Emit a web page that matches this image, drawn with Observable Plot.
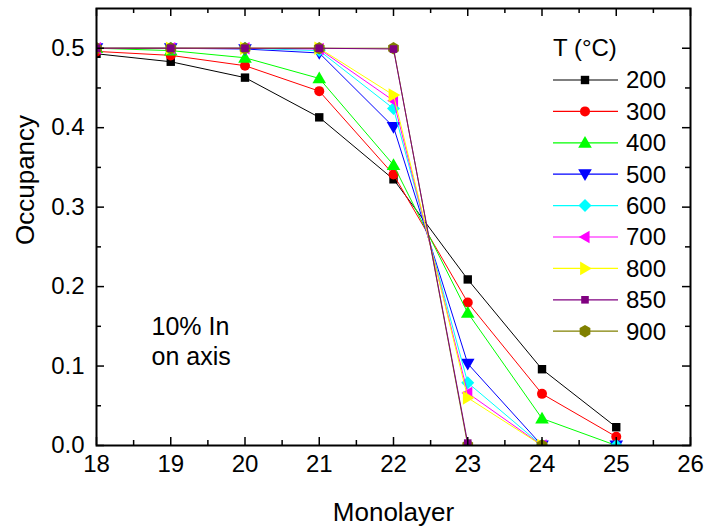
<!DOCTYPE html>
<html><head><meta charset="utf-8">
<script src="https://cdn.jsdelivr.net/npm/d3@7"></script>
<script src="https://cdn.jsdelivr.net/npm/@observablehq/plot@0.6"></script>
<style>body{margin:0;background:#fff} #chart{position:relative;width:707px;height:532px}</style>
</head><body><div id="chart"></div>
<script>
// ---- data ----
const monolayers = [18, 19, 20, 21, 22, 23, 24, 25];
const temps = ["200", "300", "400", "500", "600", "700", "800", "850", "900"];
const s200 = [0.493, 0.483, 0.463, 0.413, 0.335, 0.209, 0.096, 0.023];
const s300 = [0.496, 0.491, 0.478, 0.446, 0.341, 0.180, 0.065, 0.011];
const s400 = [0.500, 0.497, 0.488, 0.462, 0.353, 0.167, 0.034, 0.000];
const s500 = [0.500, 0.500, 0.499, 0.494, 0.401, 0.103, 0.000, 0.000];
const s600 = [0.500, 0.500, 0.500, 0.497, 0.424, 0.079, 0.000, 0.000];
const s700 = [0.500, 0.500, 0.500, 0.499, 0.434, 0.066, 0.000, null];
const s800 = [0.500, 0.500, 0.500, 0.500, 0.441, 0.060, 0.000, null];
const s850 = [0.500, 0.500, 0.500, 0.500, 0.499, 0.003, null, null];
const s900 = [0.500, 0.500, 0.500, 0.500, 0.500, 0.000, 0.000, null];
const xTicks = [18, 19, 20, 21, 22, 23, 24, 25, 26];
const yTicks = [0, 0.1, 0.2, 0.3, 0.4, 0.5];
const xMinor = [18.5, 19.5, 20.5, 21.5, 22.5, 23.5, 24.5, 25.5];
const yMinor = [0.05, 0.15, 0.25, 0.35, 0.45];
const seriesValues = [s200, s300, s400, s500, s600, s700, s800, s850, s900];

// ---- styles ----
const colors = ["#000000", "#ff0000", "#00ff00", "#0000ff", "#00ffff", "#ff00ff", "#ffff00", "#800080", "#808000"];
const R = (size) => Math.sqrt(size / Math.PI);
const symSquare = {draw(c, s) { const r = R(s); c.rect(-r, -r, 2 * r, 2 * r); }};
const symCircle = {draw(c, s) { const r = R(s); c.moveTo(r, 0); c.arc(0, 0, r, 0, 2 * Math.PI); }};
const symUp = {draw(c, s) { const r = R(s); c.moveTo(0, -r); c.lineTo(r, r * 0.72); c.lineTo(-r, r * 0.72); c.closePath(); }};
const symDown = {draw(c, s) { const r = R(s); c.moveTo(0, r); c.lineTo(r, -r * 0.72); c.lineTo(-r, -r * 0.72); c.closePath(); }};
const symLeft = {draw(c, s) { const r = R(s); c.moveTo(-r, 0); c.lineTo(r * 0.72, -r); c.lineTo(r * 0.72, r); c.closePath(); }};
const symRight = {draw(c, s) { const r = R(s); c.moveTo(r, 0); c.lineTo(-r * 0.72, -r); c.lineTo(-r * 0.72, r); c.closePath(); }};
const symDiamond = {draw(c, s) { const r = R(s); c.moveTo(0, -r); c.lineTo(r, 0); c.lineTo(0, r); c.lineTo(-r, 0); c.closePath(); }};
const symHex = {draw(c, s) { const r = R(s); for (let k = 0; k < 6; k++) { const a = Math.PI / 2 + k * Math.PI / 3; const px = r * Math.cos(a), py = r * Math.sin(a); if (k === 0) c.moveTo(px, py); else c.lineTo(px, py); } c.closePath(); }};
const symbols = [symSquare, symCircle, symUp, symDown, symDiamond, symLeft, symRight, symSquare, symHex];
const radii = [4.2, 5, 6.8, 6.8, 6.5, 6.3, 6.8, 3.8, 6.2];
const drawOrder = [0, 1, 2, 3, 4, 5, 6, 8, 7];

const W = 707, H = 532;
const mL = 96, mR = 17, mT = 8, mB = 87;
const fw = W - mL - mR, fh = H - mT - mB;
const FONT = "'Liberation Sans', Arial, sans-serif";

const series = temps.map((t, i) => monolayers.map((m, j) => ({x: m, y: seriesValues[i][j], T: t})).filter(d => d.y != null));

const marks = [];
for (const i of drawOrder) {
  marks.push(Plot.line(series[i], {x: "x", y: "y", stroke: colors[i], strokeWidth: 1, clip: "frame"}));
  marks.push(Plot.dot(series[i], {x: "x", y: "y", fill: colors[i], symbol: symbols[i], r: radii[i], clip: "frame"}));
}

const chart = Plot.plot({
  width: W, height: H,
  marginLeft: mL, marginRight: mR, marginTop: mT, marginBottom: mB,
  style: {fontFamily: FONT, fontSize: "23px", color: "#000", background: "#fff"},
  x: {domain: [18, 26]},
  y: {domain: [0, 0.55]},
  marks: [
    ...marks,
    Plot.tickX(xTicks, {x: d => d, insetTop: fh - 8, strokeWidth: 1.5}),
    Plot.tickX(xTicks, {x: d => d, insetBottom: fh - 8, strokeWidth: 1.5}),
    Plot.tickX(xMinor, {x: d => d, insetTop: fh - 5, strokeWidth: 1.5}),
    Plot.tickX(xMinor, {x: d => d, insetBottom: fh - 5, strokeWidth: 1.5}),
    Plot.tickY(yTicks, {y: d => d, insetRight: fw - 8, strokeWidth: 1.5}),
    Plot.tickY(yTicks, {y: d => d, insetLeft: fw - 8, strokeWidth: 1.5}),
    Plot.tickY(yMinor, {y: d => d, insetRight: fw - 5, strokeWidth: 1.5}),
    Plot.tickY(yMinor, {y: d => d, insetLeft: fw - 5, strokeWidth: 1.5}),
    Plot.axisX(xTicks, {tickSize: 0, tickPadding: 9, fontSize: 24, label: null, tickFormat: d => String(d)}),
    Plot.axisY(yTicks, {tickSize: 0, tickPadding: 12, fontSize: 24, label: null, tickFormat: d3.format(".1f")}),
    Plot.frame({stroke: "#000", strokeWidth: 2}),
    Plot.text(["Monolayer"], {frameAnchor: "bottom", dy: 67, fontSize: 26, lineAnchor: "middle"}),
    Plot.text(["Occupancy"], {frameAnchor: "left", dx: -71, dy: 18, rotate: -90, fontSize: 26, lineAnchor: "middle"}),
    Plot.text(["10% In\non axis"], {frameAnchor: "bottom-left", dx: 55, dy: -105, textAnchor: "start", lineAnchor: "middle", fontSize: 25, lineHeight: 1.2})
  ]
});
document.getElementById("chart").appendChild(chart);

// ---- legend ----
const svg = d3.select(chart);
const lg = svg.append("g").attr("font-family", FONT).attr("font-size", 24).attr("fill", "#000").attr("text-anchor", "start");
lg.append("text").attr("x", 553).attr("y", 48).attr("dy", "0.35em").text("T (°C)");
temps.forEach((t, i) => {
  const y = 80 + i * 31.4;
  lg.append("line").attr("x1", 553).attr("x2", 618).attr("y1", y).attr("y2", y).attr("stroke", colors[i]).attr("stroke-width", 1.2);
  const p = d3.path();
  symbols[i].draw(p, radii[i] * radii[i] * Math.PI);
  lg.append("path").attr("d", p.toString()).attr("transform", `translate(585,${y})`).attr("fill", colors[i]);
  lg.append("text").attr("x", 626).attr("y", y).attr("dy", "0.35em").text(t);
});
</script></body></html>
